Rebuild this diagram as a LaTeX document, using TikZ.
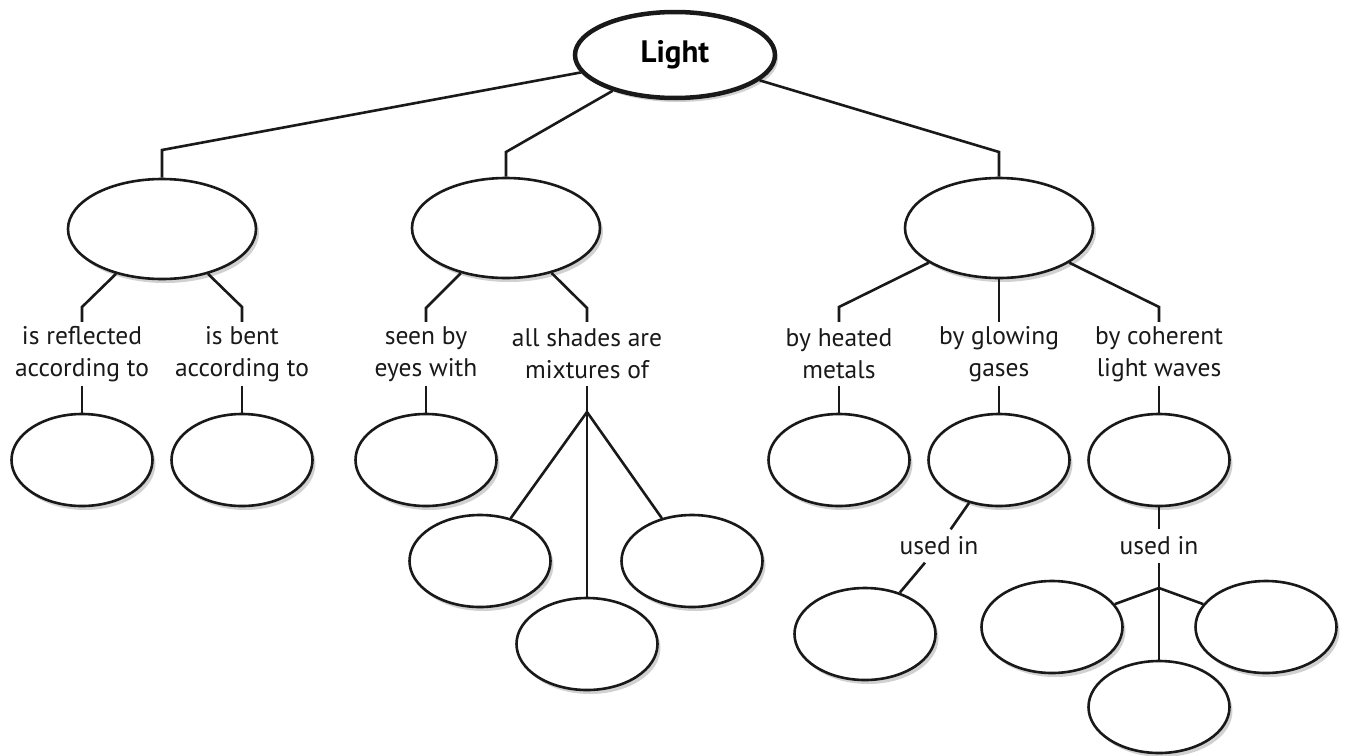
\documentclass[tikz,border=0pt]{standalone}
\usepackage{fontspec}
\setmainfont{PT Sans}
\usetikzlibrary{shapes.geometric,shadows}
\begin{document}
\begin{tikzpicture}[x=1pt,y=-1pt,
  conn/.style={line width=2.6pt,black!90,line join=miter},
  oval/.style={ellipse,draw=black!90,line width=2.6pt,fill=white,inner sep=0pt,
    drop shadow={shadow xshift=3pt,shadow yshift=-4pt,opacity=0.18,fill=black}},
  big/.style={oval,minimum width=188pt,minimum height=100pt},
  small/.style={oval,minimum width=141pt,minimum height=92pt},
  lab/.style={align=center,inner sep=0pt,minimum height=64pt,font=\fontsize{25.5}{32}\selectfont,text=black!90},
  used/.style={inner sep=0pt,minimum height=33pt,minimum width=40pt,font=\fontsize{25.5}{32}\selectfont,text=black!90}
]
\useasboundingbox (0,0) rectangle (1346,755);
\fill[white] (0,0) rectangle (1346,755);

% coordinates for bends
\coordinate (b1) at (162,150);
\coordinate (b2) at (506,152);
\coordinate (b3) at (999,152);
\coordinate (c11) at (82,307);
\coordinate (c12) at (242,307);
\coordinate (c21) at (426,308);
\coordinate (c22) at (587,308);
\coordinate (c31) at (839,307);
\coordinate (c33) at (1159,307);
\coordinate (j1) at (587,412);
\coordinate (j2) at (1159,588);

% labels
\node[lab] (lab1) at (82,354) {is reflected\\according to};
\node[lab] (lab2) at (242,354) {is bent\\according to};
\node[lab] (lab3) at (426,354) {seen by\\eyes with};
\node[lab] (lab4) at (587,354) {all shades are\\mixtures of};
\node[lab] (lab5) at (839,354) {by heated\\metals};
\node[lab] (lab6) at (999,354) {by glowing\\gases};
\node[lab] (lab7) at (1159,354) {by coherent\\light waves};
\node[used] (used1) at (939,546) {used in};
\node[used] (used2) at (1159,546) {used in};

% top
\node[oval,line width=4.5pt,minimum width=200pt,minimum height=86pt,
  font=\fontsize{31}{36}\selectfont\bfseries] (light) at (675,55) {Light};

% level 1
\node[big] (E1) at (162,229) {};
\node[big] (E2) at (506,228) {};
\node[big] (E3) at (999,228) {};

% level 2
\node[small] (L1) at (82,460) {};
\node[small] (L2) at (242,460) {};
\node[small] (M1) at (426,460) {};
\node[small] (M2) at (480,561) {};
\node[small] (M3) at (692,561) {};
\node[small] (M4) at (587,644) {};
\node[small] (R1) at (839,460) {};
\node[small] (R2) at (999,460) {};
\node[small] (R3) at (1159,460) {};
\node[small] (R4) at (865,634) {};
\node[small] (R5) at (1052,627) {};
\node[small] (R6) at (1266,627) {};
\node[small] (R7) at (1159,707) {};

% connectors
\draw[conn] (light) -- (b1) -- (E1);
\draw[conn] (light) -- (b2) -- (E2);
\draw[conn] (light) -- (b3) -- (E3);

\draw[conn] (E1) -- (c11) -- (lab1.north);
\draw[conn] (E1) -- (c12) -- (lab2.north);
\draw[conn] (lab1.south) -- (L1);
\draw[conn] (lab2.south) -- (L2);

\draw[conn] (E2) -- (c21) -- (lab3.north);
\draw[conn] (E2) -- (c22) -- (lab4.north);
\draw[conn] (lab3.south) -- (M1);
\draw[conn] (lab4.south) -- (j1);
\draw[conn] (j1) -- (M2);
\draw[conn] (j1) -- (M3);
\draw[conn] (j1) -- (M4);

\draw[conn] (E3) -- (c31) -- (lab5.north);
\draw[conn] (E3) -- (lab6.north);
\draw[conn] (E3) -- (c33) -- (lab7.north);
\draw[conn] (lab5.south) -- (R1);
\draw[conn] (lab6.south) -- (R2);
\draw[conn] (lab7.south) -- (R3);

\draw[conn] (R2) -- (used1);
\draw[conn] (used1) -- (R4);
\draw[conn] (R3) -- (used2.north);
\draw[conn] (used2.south) -- (j2);
\draw[conn] (j2) -- (R5);
\draw[conn] (j2) -- (R6);
\draw[conn] (j2) -- (R7);
\end{tikzpicture}
\end{document}
